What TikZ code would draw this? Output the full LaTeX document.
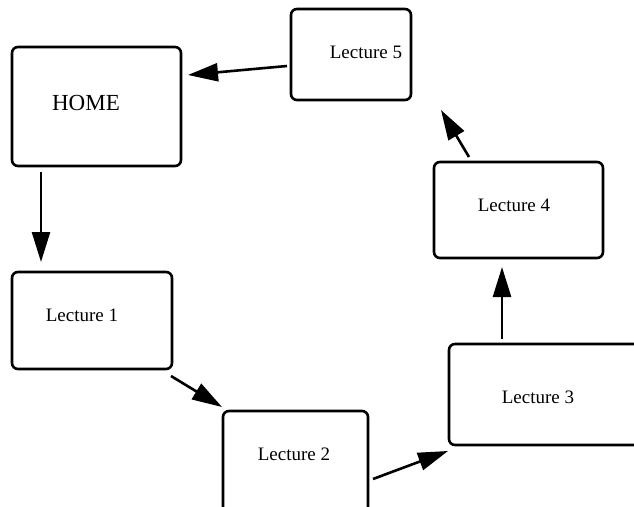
\documentclass[tikz,border=0pt]{standalone}
\usepackage{fontspec}
\setmainfont{Liberation Serif}
\usetikzlibrary{arrows.meta}
\begin{document}
\begin{tikzpicture}[x=1pt,y=-1pt,
  box/.style={draw=black,line width=2.6pt,rounded corners=6pt},
  lbl/.style={inner sep=0pt,font=\fontsize{19}{22}\selectfont},
  conn/.style={line width=2.6pt,-{Triangle[length=30pt,width=18pt]}}]
\useasboundingbox (0,0) rectangle (634,506);
\clip (0,0) rectangle (634,506);
\draw[box] (12,47) rectangle (181,166);
\draw[box] (291,9) rectangle (411,100);
\draw[box] (434,162) rectangle (603,258);
\draw[box] (449,344) rectangle (645,445);
\draw[box] (223,411) rectangle (368,520);
\draw[box] (12,272) rectangle (172,369);
\node[lbl,font=\fontsize{23}{26}\selectfont] (home) at (86,103) {HOME};
\node[lbl] (l5) at (366,52) {Lecture 5};
\node[lbl] (l4) at (514,205) {Lecture 4};
\node[lbl] (l3) at (538,397) {Lecture 3};
\node[lbl] (l2) at (294,454) {Lecture 2};
\node[lbl] (l1) at (82,315) {Lecture 1};
\coordinate (a5s) at (287,66); \coordinate (a5e) at (188,75);
\coordinate (ahs) at (41,172); \coordinate (ahe) at (41,262);
\coordinate (a1s) at (171,376); \coordinate (a1e) at (222,407);
\coordinate (a2s) at (373,479); \coordinate (a2e) at (448,451);
\coordinate (a3s) at (502,339); \coordinate (a3e) at (502,267);
\coordinate (a4s) at (469,157); \coordinate (a4e) at (441,110);
\draw[conn] (a5s) -- (a5e);
\draw[conn] (ahs) -- (ahe);
\draw[conn] (a1s) -- (a1e);
\draw[conn] (a2s) -- (a2e);
\draw[conn] (a3s) -- (a3e);
\draw[conn] (a4s) -- (a4e);
\end{tikzpicture}
\end{document}
